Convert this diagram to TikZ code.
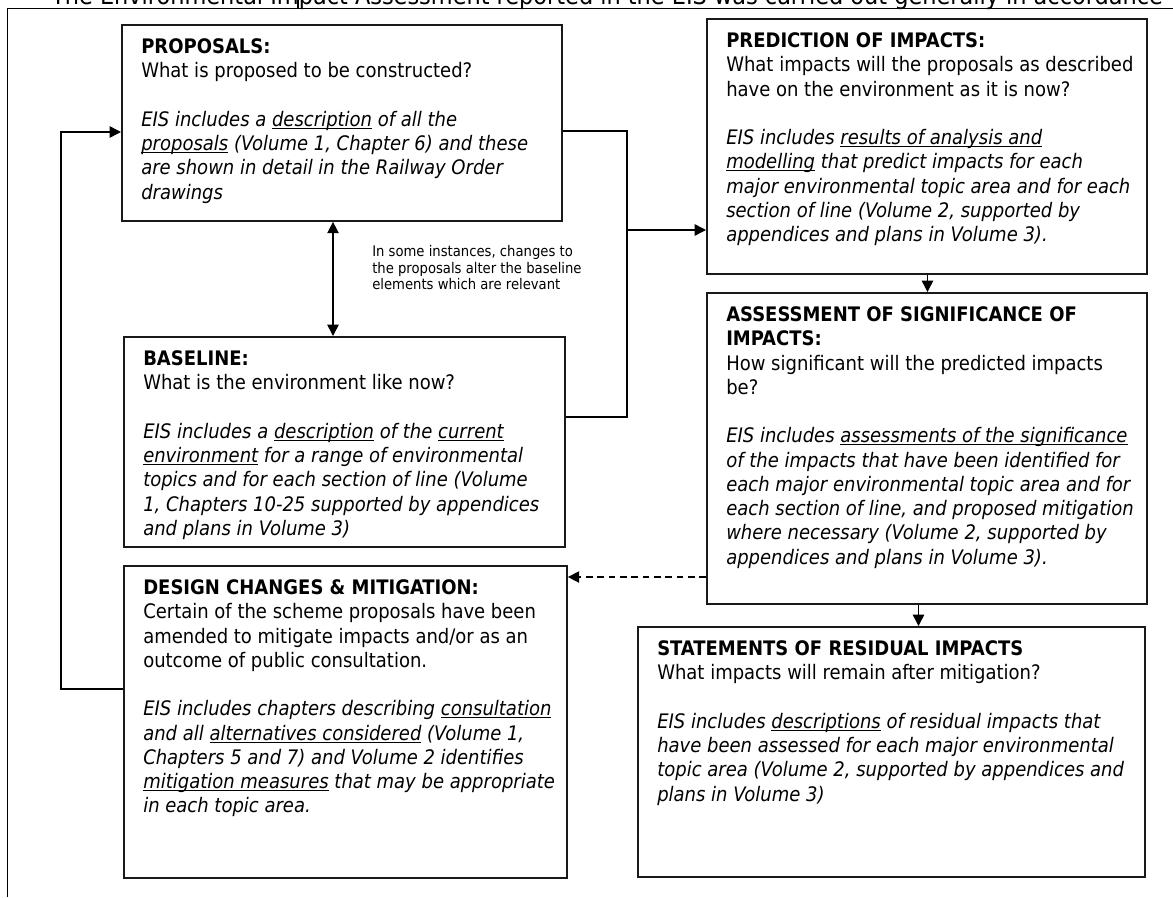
\documentclass[tikz,border=0pt]{standalone}
\usepackage{fontspec}
\setmainfont{DejaVu Sans Condensed}
\usetikzlibrary{arrows.meta,positioning,calc}
\newcommand{\ud}[1]{\underline{\smash{#1}}}

\begin{document}
\begin{tikzpicture}[x=0.75pt,y=-0.75pt,
  bx/.style={draw=black!90,line width=1.4pt,anchor=north west,inner sep=0pt},
  tx/.style={anchor=north west,inner sep=0pt,align=left,font=\fontsize{15}{18.2}\selectfont},
  nt/.style={anchor=north west,inner sep=0pt,align=left,font=\fontsize{11}{12.5}\selectfont},
  ln/.style={line width=1.1pt},
  a/.style={-{Triangle[length=8.5pt,width=8.5pt]},line width=1.1pt},
  aa/.style={{Triangle[length=8.5pt,width=8.5pt]}-{Triangle[length=8.5pt,width=8.5pt]},line width=1.1pt}]
\useasboundingbox (0,0) rectangle (1173,897);
\node[anchor=base west,inner sep=0pt,font=\fontsize{18.7}{22}\selectfont](ttl) at (51,4){The Environmental Impact Assessment reported in the EIS was carried out generally in accordance};
\draw[ln](7.3,897)--(7.3,8.5)--(1173,8.5);
\draw[ln](298,0)--(298,8.5);
\node[bx,minimum width=330pt,minimum height=147pt](prop) at (121,24){};
\node[bx,minimum width=330.75pt,minimum height=157.5pt](base) at (123,336){};
\node[bx,minimum width=332.25pt,minimum height=234pt](dsgn) at (123,565){};
\node[bx,minimum width=330pt,minimum height=191.25pt](pred) at (706,18){};
\node[bx,minimum width=330pt,minimum height=233.25pt](asmt) at (706,292){};
\node[bx,minimum width=380.25pt,minimum height=187.5pt](stmt) at (637,626){};
\node[tx](propt) at ([xshift=15pt,yshift=-10.8pt]prop.north west){\textbf{PROPOSALS:}\\What is proposed to be constructed?\\[18.2pt]
\textit{EIS includes a \ud{description} of all the}\\\textit{\ud{proposals} (Volume 1, Chapter 6) and these}\\\textit{are shown in detail in the Railway Order}\\\textit{drawings}};
\node[tx](baset) at ([xshift=15pt,yshift=-10.8pt]base.north west){\textbf{BASELINE:}\\What is the environment like now?\\[18.2pt]
\textit{EIS includes a \ud{description} of the \ud{current}}\\\textit{\ud{environment} for a range of environmental}\\\textit{topics and for each section of line (Volume}\\\textit{1, Chapters 10-25 supported by appendices}\\\textit{and plans in Volume 3)}};
\node[tx](dsgnt) at ([xshift=15pt,yshift=-10.8pt]dsgn.north west){\textbf{DESIGN CHANGES \& MITIGATION:}\\Certain of the scheme proposals have been\\amended to mitigate impacts and/or as an\\outcome of public consultation.\\[18.2pt]
\textit{EIS includes chapters describing \ud{consultation}}\\\textit{and all \ud{alternatives considered} (Volume 1,}\\\textit{Chapters 5 and 7) and Volume 2 identifies}\\\textit{\ud{mitigation measures} that may be appropriate}\\\textit{in each topic area.}};
\node[tx](predt) at ([xshift=15pt,yshift=-10.8pt]pred.north west){\textbf{PREDICTION OF IMPACTS:}\\What impacts will the proposals as described\\have on the environment as it is now?\\[18.2pt]
\textit{EIS includes \ud{results of analysis and}}\\\textit{\ud{modelling} that predict impacts for each}\\\textit{major environmental topic area and for each}\\\textit{section of line (Volume 2, supported by}\\\textit{appendices and plans in Volume 3).}};
\node[tx](asmtt) at ([xshift=15pt,yshift=-10.8pt]asmt.north west){\textbf{ASSESSMENT OF SIGNIFICANCE OF}\\\textbf{IMPACTS:}\\How significant will the predicted impacts\\be?\\[18.2pt]
\textit{EIS includes \ud{assessments of the significance}}\\\textit{of the impacts that have been identified for}\\\textit{each major environmental topic area and for}\\\textit{each section of line, and proposed mitigation}\\\textit{where necessary (Volume 2, supported by}\\\textit{appendices and plans in Volume 3).}};
\node[tx](stmtt) at ([xshift=15pt,yshift=-10.8pt]stmt.north west){\textbf{STATEMENTS OF RESIDUAL IMPACTS}\\What impacts will remain after mitigation?\\[18.2pt]
\textit{EIS includes \ud{descriptions} of residual impacts that}\\\textit{have been assessed for each major environmental}\\\textit{topic area (Volume 2, supported by appendices and}\\\textit{plans in Volume 3)}};
\node[nt](note) at (372,245){In some instances, changes to\\the proposals alter the baseline\\elements which are relevant};
\coordinate (j1) at (627,131);
\coordinate (j2) at (627,417);
\coordinate (j3) at (627,230);
\coordinate (j4) at (61,132);
\draw[aa](prop.south -| 333,0)--(base.north -| 333,0);
\draw[ln](prop.east |- j1)--(j1)--(j2)--(base.east |- j2);
\draw[a](j3)--(pred.west |- j3);
\draw[a](pred.south -| 927.5,0)--(asmt.north -| 927.5,0);
\draw[a](asmt.south -| 918.5,0)--(stmt.north -| 918.5,0);
\draw[a,dash pattern=on 5pt off 3.5pt](asmt.west |- 0,577)--(dsgn.east |- 0,577);
\draw[a](dsgn.west |- 0,689)-|(j4)--(prop.west |- j4);
\end{tikzpicture}
\end{document}
